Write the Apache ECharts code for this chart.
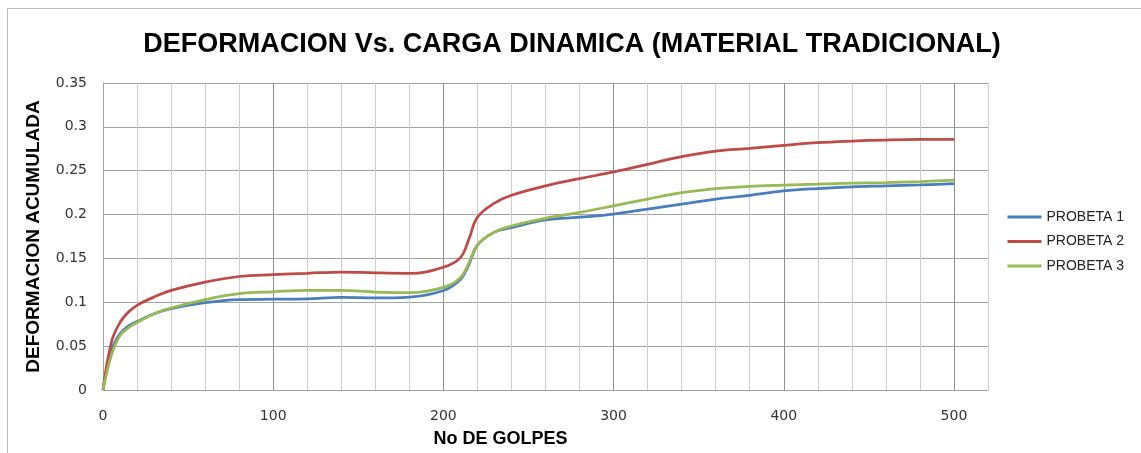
<!DOCTYPE html>
<html>
<head>
<meta charset="utf-8">
<script src="https://cdn.jsdelivr.net/npm/echarts@6/dist/echarts.min.js"></script>
<style>
html,body{margin:0;padding:0;background:#fff;}
#chart{width:1141px;height:453px;}
</style>
</head>
<body>
<div id="chart"></div>
<script>
const titleText = 'DEFORMACION Vs. CARGA DINAMICA (MATERIAL TRADICIONAL)';
const xName = 'No DE GOLPES';
const yName = 'DEFORMACION ACUMULADA';
const seriesNames = ['PROBETA 1', 'PROBETA 2', 'PROBETA 3'];
const golpes = [0, 5, 10, 15, 20, 30, 40, 60, 80, 100, 120, 140, 160, 180, 200, 210, 215, 220, 230, 240, 260, 280, 300, 320, 340, 360, 380, 400, 420, 440, 460, 480, 500];
const probeta1 = [0, 0.045, 0.064, 0.073, 0.078, 0.087, 0.0927, 0.0995, 0.103, 0.1035, 0.104, 0.1055, 0.105, 0.106, 0.1135, 0.126, 0.143, 0.165, 0.18, 0.185, 0.1938, 0.197, 0.2006, 0.2063, 0.212, 0.2176, 0.222, 0.227, 0.2297, 0.2316, 0.2327, 0.2338, 0.2354];
const probeta2 = [0, 0.055, 0.077, 0.089, 0.0965, 0.106, 0.1135, 0.123, 0.1294, 0.1315, 0.133, 0.1345, 0.1335, 0.133, 0.14, 0.151, 0.172, 0.197, 0.213, 0.222, 0.2327, 0.241, 0.2486, 0.2573, 0.266, 0.2724, 0.2754, 0.2789, 0.282, 0.2838, 0.285, 0.2857, 0.2858];
const probeta3 = [0, 0.04, 0.062, 0.071, 0.077, 0.087, 0.0935, 0.103, 0.1098, 0.112, 0.1135, 0.1135, 0.1117, 0.111, 0.117, 0.128, 0.145, 0.1655, 0.18, 0.187, 0.1957, 0.2025, 0.21, 0.2176, 0.225, 0.2297, 0.2322, 0.2335, 0.2346, 0.2358, 0.2365, 0.2377, 0.2392];
const colors = ['#4a7ebb', '#be4b48', '#98b954'];

const allY = [probeta1, probeta2, probeta3];
const chart = echarts.init(document.getElementById('chart'), null, {renderer: 'canvas'});
const option = {
  animation: false,
  backgroundColor: '#ffffff',
  title: {
    text: titleText,
    left: 567,
    textAlign: 'center',
    top: 26,
    textStyle: {fontFamily: 'Liberation Sans', fontWeight: 'bold', fontSize: 27, color: '#000'}
  },
  graphic: [{
    type: 'rect', z: -10, silent: true,
    shape: {x: 7.5, y: 8.5, width: 1200, height: 600},
    style: {fill: 'none', stroke: '#bdbdbd', lineWidth: 1}
  }],
  legend: {
    orient: 'vertical',
    left: 1001,
    top: 205,
    itemWidth: 34,
    itemHeight: 14,
    itemGap: 10.5,
    data: seriesNames,
    itemStyle: {opacity: 0},
    lineStyle: {width: 3},
    textStyle: {fontFamily: 'Liberation Sans', fontSize: 14, color: '#222'}
  },
  grid: {left: 103, right: 153, top: 83, bottom: 61, containLabel: false},
  xAxis: {
    type: 'value', min: 0, max: 520, interval: 20,
    name: xName, nameLocation: 'middle', nameGap: 40,
    nameTextStyle: {fontFamily: 'Liberation Sans', fontWeight: 'bold', fontSize: 18, color: '#000', padding: [0, 90, 0, 0]},
    axisLine: {show: true, lineStyle: {color: '#a0a0a0', width: 1}},
    axisTick: {show: false},
    axisLabel: {
      margin: 19, fontFamily: 'DejaVu Sans', fontSize: 14, color: '#333',
      formatter: v => (v % 100 === 0 ? String(v) : '')
    },
    splitLine: {show: true, lineStyle: {color: ['#909090', '#cdcdcd', '#cdcdcd', '#cdcdcd', '#cdcdcd'], width: 1}}
  },
  yAxis: {
    type: 'value', min: 0, max: 0.35, interval: 0.05,
    name: yName, nameLocation: 'middle', nameGap: 60, nameRotate: 90,
    nameTextStyle: {fontFamily: 'Liberation Sans', fontWeight: 'bold', fontSize: 19, color: '#000'},
    axisLine: {show: true, lineStyle: {color: '#a0a0a0', width: 1}},
    axisTick: {show: false},
    axisLabel: {margin: 16, fontFamily: 'DejaVu Sans', fontSize: 14, color: '#333'},
    splitLine: {show: true, lineStyle: {color: '#a3a3a3', width: 1}}
  },
  series: seriesNames.map((name, i) => ({
    name: name,
    type: 'line',
    smooth: 0.4,
    symbol: 'none',
    data: golpes.map((g, j) => [g, allY[i][j]]),
    lineStyle: {color: colors[i], width: 2.75},
    itemStyle: {color: colors[i]}
  }))
};
chart.setOption(option);
</script>
</body>
</html>
